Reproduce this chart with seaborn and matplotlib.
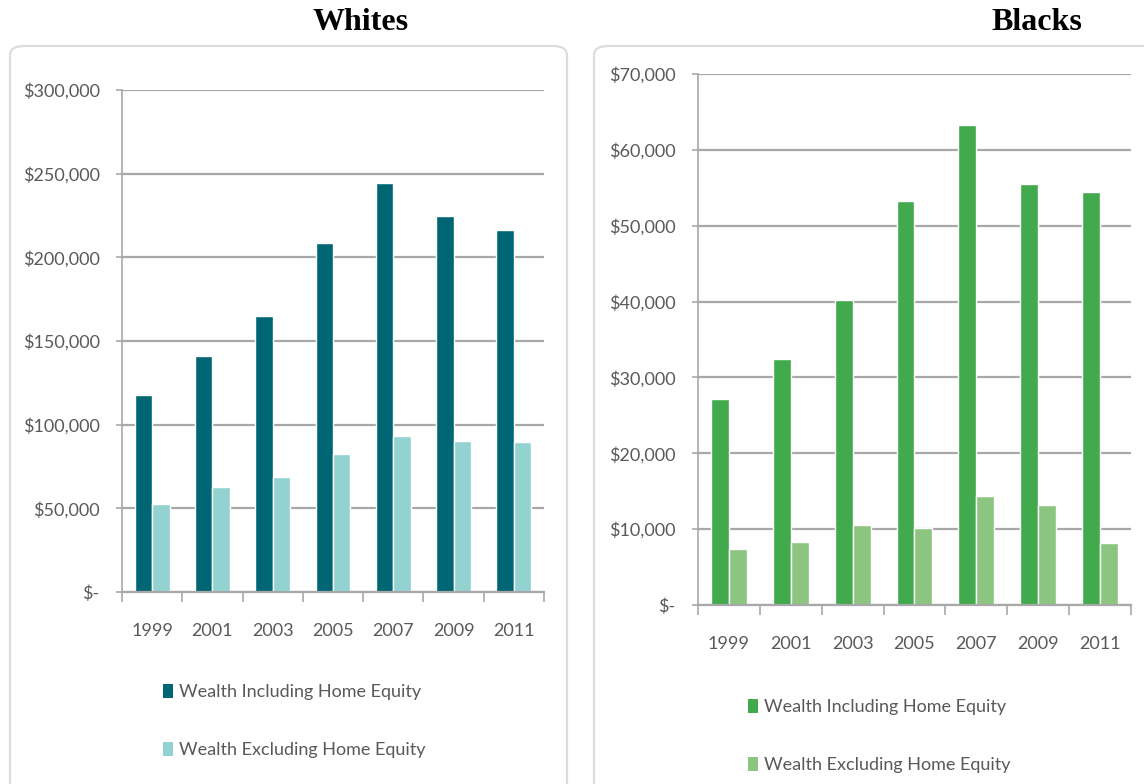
import matplotlib
matplotlib.use("Agg")
import matplotlib.pyplot as plt
from matplotlib.patches import FancyBboxPatch, Patch
from matplotlib.ticker import FuncFormatter, FixedLocator
import seaborn as sns
import pandas as pd

# ---- data ----
years = ["1999", "2001", "2003", "2005", "2007", "2009", "2011"]
series_names = ["Wealth Including Home Equity", "Wealth Excluding Home Equity"]
white_incl = [118000, 141000, 165000, 208500, 244500, 224500, 216500]
white_excl = [52500, 63000, 69000, 82500, 93000, 90500, 89500]
black_incl = [27200, 32400, 40200, 53200, 63300, 55500, 54400]
black_excl = [7400, 8300, 10500, 10100, 14400, 13200, 8200]

white_colors = ["#006673", "#92d2d0"]
black_colors = ["#41aa4c", "#8cc57f"]

sns.set_theme(style="white")
plt.rcParams["font.family"] = ["Lato", "DejaVu Sans"]

W, H = 1144, 784
fig = plt.figure(figsize=(W / 100, H / 100), dpi=100)
fig.patch.set_facecolor("white")


def frac_box(x0, y0, x1, y1):
    """pixel box (top-left origin) -> figure fraction [l, b, w, h]"""
    return [x0 / W, (H - y1) / H, (x1 - x0) / W, (y1 - y0) / H]


# rounded panel frames
for x0, x1 in [(10, 567), (594, 1160)]:
    l, b, w, h = frac_box(x0, 46, x1, 800)
    fig.patches.append(FancyBboxPatch((l, b), w, h, transform=fig.transFigure,
                                      boxstyle="round,pad=0,rounding_size=0.012",
                                      facecolor="none", edgecolor="#dcdcdc",
                                      linewidth=1.6, zorder=-5))

GRID = "#a8a8a8"
TXT = "#595959"


def draw_panel(rect, incl, excl, colors, ymax, step, leg_xy):
    ax = fig.add_axes(rect)
    ax.set_facecolor("none")
    df = pd.DataFrame({
        "year": years * 2,
        "value": incl + excl,
        "series": [series_names[0]] * len(years) + [series_names[1]] * len(years),
    })
    sns.barplot(data=df, x="year", y="value", hue="series", order=years,
                hue_order=series_names, palette=colors, width=0.58,
                saturation=1, legend=False, ax=ax, zorder=3)
    ax.set_xlim(-0.5, len(years) - 0.5)
    ax.set_ylim(0, ymax)
    ticks = list(range(0, ymax + 1, step))
    ax.yaxis.set_major_locator(FixedLocator(ticks))
    ax.yaxis.set_major_formatter(FuncFormatter(lambda v, p: "$-" if v == 0 else f"${v:,.0f}"))
    ax.grid(axis="y", color=GRID, linewidth=1.6, zorder=1)
    ax.set_axisbelow(True)
    for s in ["top", "right"]:
        ax.spines[s].set_visible(False)
    ax.spines["left"].set_color(GRID)
    ax.spines["left"].set_linewidth(1.2)
    ax.spines["bottom"].set_color(GRID)
    ax.spines["bottom"].set_linewidth(1.6)
    ax.spines["bottom"].set_zorder(4)
    ax.set_xlabel("")
    ax.set_ylabel("")
    ax.tick_params(axis="y", which="major", left=True, length=4, width=1.2,
                   color=GRID, labelsize=13, labelcolor=TXT, pad=12)
    ax.tick_params(axis="x", which="major", bottom=False, labelsize=13,
                   labelcolor=TXT, pad=16)
    ax.xaxis.set_minor_locator(FixedLocator([i - 0.5 for i in range(len(years) + 1)]))
    ax.tick_params(axis="x", which="minor", bottom=True, length=7, width=1.2,
                   color=GRID, direction="out")
    handles = [Patch(facecolor=c, edgecolor="none") for c in colors]
    ax.legend(handles, series_names, loc="upper left",
              bbox_to_anchor=leg_xy, bbox_transform=fig.transFigure,
              frameon=False, fontsize=13, labelcolor=TXT, handlelength=0.55,
              handleheight=0.8, handletextpad=0.35, labelspacing=2.3,
              borderpad=0, borderaxespad=0)
    return ax


draw_panel(frac_box(122, 90, 544, 592), white_incl, white_excl, white_colors,
           300000, 50000, (163 / W, (H - 684) / H))
draw_panel(frac_box(698, 74, 1131, 605), black_incl, black_excl, black_colors,
           70000, 10000, (748 / W, (H - 699) / H))

title_font = dict(family="Liberation Serif", fontweight="bold", fontsize=23, color="black")
fig.text(361 / W, (H - 22) / H, "Whites", ha="center", va="center", **title_font)
fig.text(1037 / W, (H - 22) / H, "Blacks", ha="center", va="center", **title_font)

fig.savefig("out.png", dpi=100, facecolor="white")
